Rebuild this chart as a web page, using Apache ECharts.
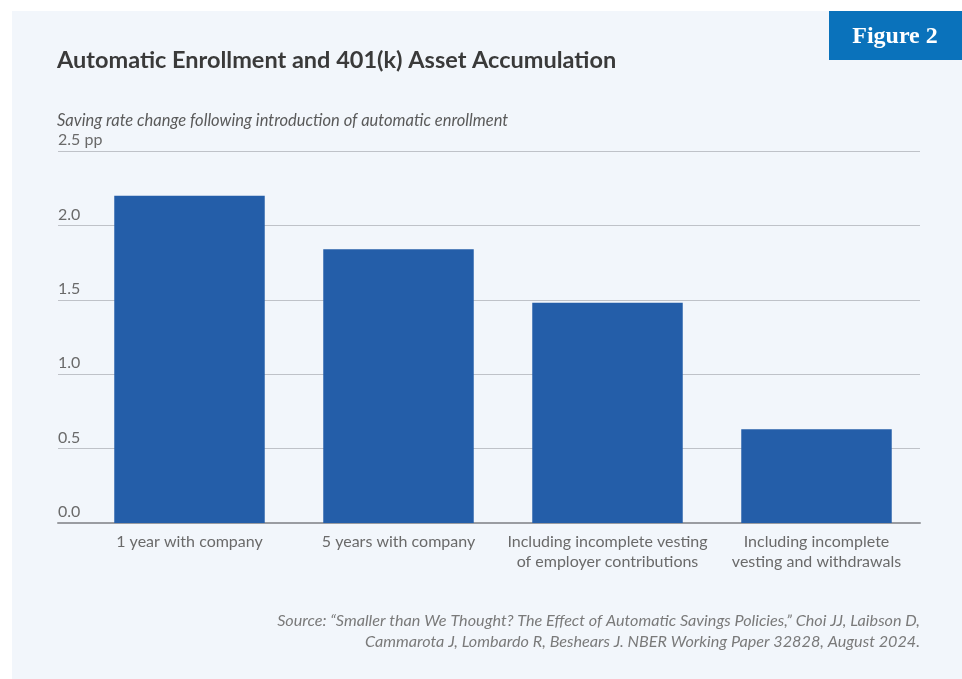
<!DOCTYPE html>
<html>
<head>
<meta charset="utf-8">
<script src="https://cdn.jsdelivr.net/npm/echarts@6/dist/echarts.min.js"></script>
<style>
  html, body { margin: 0; padding: 0; background: #ffffff; }
  #chart { width: 962px; height: 679px; }
</style>
</head>
<body>
<div id="chart"></div>
<script>
// Saving rate change (percentage points) after automatic enrollment
const categories = [
  '1 year with company',
  '5 years with company',
  'Including incomplete vesting\nof employer contributions',
  'Including incomplete\nvesting and withdrawals'
];
const savingRateChange = [2.20, 1.84, 1.48, 0.63];
const yTicks = { min: 0, max: 2.5, interval: 0.5, unit: ' pp' };

const titleText = 'Automatic Enrollment and 401(k) Asset Accumulation';
const subtitleText = 'Saving rate change following introduction of automatic enrollment';
const sourceText = 'Source: \u201cSmaller than We Thought? The Effect of Automatic Savings Policies,\u201d Choi JJ, Laibson D,\n' +
  'Cammarota J, Lombardo R, Beshears J. NBER Working Paper 32828, August 2024.';
const badgeText = 'Figure 2';

const sans = 'Lato, "Source Sans Pro", "Noto Sans", sans-serif';
const chart = echarts.init(document.getElementById('chart'), null, { renderer: 'canvas' });

chart.setOption({
  backgroundColor: '#ffffff',
  animation: false,
  graphic: [
    { type: 'rect', z: -10, shape: { x: 12, y: 11, width: 950, height: 668 }, style: { fill: '#f2f6fb' } },
    { type: 'rect', z: 10, shape: { x: 829, y: 11, width: 133, height: 49 }, style: { fill: '#0a72bb' } },
    { type: 'text', z: 11, x: 895, y: 37,
      style: { text: badgeText, fill: '#ffffff', font: 'bold 24px "Liberation Serif", "DejaVu Serif", serif',
               align: 'center', verticalAlign: 'middle' } },
    { type: 'text', x: 920, y: 610,
      style: { text: sourceText, fill: '#7a7a7a', font: 'italic 16.2px ' + sans,
               align: 'right', verticalAlign: 'top', lineHeight: 21 } }
  ],
  title: [
    { text: titleText, left: 57, top: 48, padding: 0,
      textStyle: { fontFamily: sans, fontWeight: 'bold', fontSize: 23.5, color: '#3a3a3a' } },
    { text: subtitleText, left: 57, top: 112, padding: 0,
      textStyle: { fontFamily: sans, fontStyle: 'italic', fontWeight: 'normal', fontSize: 16.5, color: '#5a5a5a' } }
  ],
  grid: [
    { left: 58, right: 42, top: 151, bottom: 156 },
    { left: 85, right: 41, top: 151, bottom: 156 }
  ],
  xAxis: [
    { type: 'category', gridIndex: 0, data: [''],
      axisLine: { show: true, lineStyle: { color: '#9a9ca1', width: 2 } },
      axisTick: { show: false }, axisLabel: { show: false }, splitLine: { show: false } },
    { type: 'category', gridIndex: 1, data: categories,
      axisLine: { show: false }, axisTick: { show: false },
      axisLabel: { color: '#6a6a6a', fontFamily: sans, fontSize: 16, lineHeight: 20, margin: 9, interval: 0 } }
  ],
  yAxis: [
    { type: 'value', gridIndex: 0, min: yTicks.min, max: yTicks.max, interval: yTicks.interval,
      axisLine: { show: false }, axisTick: { show: false },
      splitLine: { lineStyle: { color: '#bfc2c8', width: 1 } },
      axisLabel: {
        inside: true, margin: 0, align: 'left', verticalAlign: 'bottom', padding: [0, 0, 3, 0],
        color: '#6a6a6a', fontFamily: sans, fontSize: 16,
        formatter: v => v === yTicks.max ? v.toFixed(1) + yTicks.unit : v.toFixed(1)
      } },
    { type: 'value', gridIndex: 1, min: yTicks.min, max: yTicks.max, interval: yTicks.interval,
      show: false, splitLine: { show: false } }
  ],
  series: [
    { type: 'bar', xAxisIndex: 1, yAxisIndex: 1, data: savingRateChange,
      barCategoryGap: '28%', itemStyle: { color: '#245ea9' }, z: 3 }
  ]
});
</script>
</body>
</html>
